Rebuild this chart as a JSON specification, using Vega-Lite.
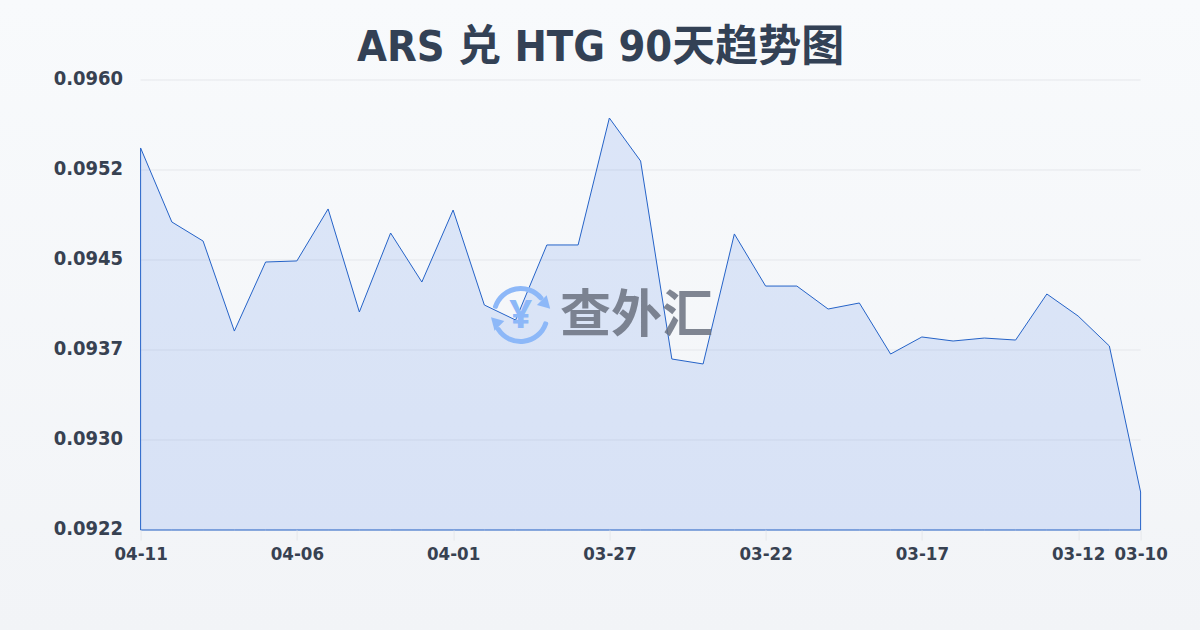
{
"$schema":"https://vega.github.io/schema/vega-lite/v6.json",
"width":1000,"height":450,
"autosize":{"type":"none"},
"padding":{"left":140.6,"top":80,"right":59.4,"bottom":100},
"background":"#f5f7fa",
"title":{"text":"ARS 兑 HTG 90天趋势图","anchor":"middle","dx":-40,"offset":-70,"fontSize":43,"fontWeight":"bold","font":"DejaVu Sans Condensed, Noto Sans CJK SC","color":"#334155"},
"config":{"view":{"stroke":null}},
"layer":[
{"data":{"values":[{}]},"mark":{"type":"rect","x":-141,"x2":1060,"y":-80,"y2":550,"fill":{"x1":0,"y1":0,"x2":0,"y2":1,"gradient":"linear","stops":[{"offset":0,"color":"#f8fafc"},{"offset":1,"color":"#f2f4f7"}]}},"encoding":{}},
{"data":{"values":[{"tick":0.0922},{"tick":0.09296},{"tick":0.09372},{"tick":0.09448},{"tick":0.09524},{"tick":0.096}]},"mark":{"type":"rule","color":"#e5e7eb","strokeWidth":1},"encoding":{"y":{"field":"tick","type":"quantitative","scale":{"domain":[0.0922,0.096],"nice":false,"zero":false},"axis":{"title":null,"values":[0.0922,0.09296,0.09372,0.09448,0.09524,0.096],"format":".4f","domain":false,"grid":false,"ticks":false,"labelFont":"DejaVu Sans Condensed","labelFontWeight":"bold","labelFontSize":20,"labelColor":"#374151","labelPadding":18,"labelOffset":-2,"zindex":1}}}},
{"data":{"values":[
{"date":"04-11","rate":0.095426},{"date":"04-10","rate":0.094801},{"date":"04-09","rate":0.09464},{"date":"04-08","rate":0.09388},{"date":"04-07","rate":0.094463},{"date":"04-06","rate":0.094472},{"date":"04-05","rate":0.094911},{"date":"04-04","rate":0.094041},{"date":"04-03","rate":0.094708},{"date":"04-02","rate":0.094294},{"date":"04-01","rate":0.094902},{"date":"03-31","rate":0.0941},{"date":"03-30","rate":0.093973},{"date":"03-29","rate":0.094607},{"date":"03-28","rate":0.094607},{"date":"03-27","rate":0.095679},{"date":"03-26","rate":0.095316},{"date":"03-25","rate":0.093644},{"date":"03-24","rate":0.093602},{"date":"03-23","rate":0.0947},{"date":"03-22","rate":0.09426},{"date":"03-21","rate":0.09426},{"date":"03-20","rate":0.094066},{"date":"03-19","rate":0.094117},{"date":"03-18","rate":0.093686},{"date":"03-17","rate":0.09383},{"date":"03-16","rate":0.093796},{"date":"03-15","rate":0.093821},{"date":"03-14","rate":0.093804},{"date":"03-13","rate":0.094193},{"date":"03-12","rate":0.094007},{"date":"03-11","rate":0.093754},{"date":"03-10","rate":0.092521}
]},
"mark":{"type":"area","fill":"#2563eb","fillOpacity":0.13,"stroke":"#2563c8","strokeWidth":1,"interpolate":"linear"},
"encoding":{
"x":{"field":"date","type":"ordinal","sort":null,"scale":{"type":"point","padding":0},"axis":{"title":null,"values":["04-11","04-06","04-01","03-27","03-22","03-17","03-12","03-10"],"labelAngle":0,"domain":false,"grid":false,"ticks":true,"tickColor":"#e5e7eb","tickSize":10,"labelFont":"DejaVu Sans Condensed","labelFontWeight":"bold","labelFontSize":18.5,"labelColor":"#374151","labelPadding":4,"zindex":1}},
"y":{"field":"rate","type":"quantitative","scale":{"domain":[0.0922,0.096],"nice":false,"zero":false}},
"y2":{"datum":0.0922}
}},
{"data":{"values":[{}]},"mark":{"type":"arc","x":380,"y":235,"radius":29,"radius2":24,"theta":-1.33,"theta2":0.96,"fill":"#8db8f8","cornerRadius":2},"encoding":{}},
{"data":{"values":[{}]},"mark":{"type":"arc","x":380,"y":235,"radius":29,"radius2":24,"theta":1.82,"theta2":4.22,"fill":"#8db8f8","cornerRadius":2},"encoding":{}},
{"data":{"values":[{}]},"mark":{"type":"point","shape":"triangle","x":404,"y":223,"size":190,"angle":135,"filled":true,"fill":"#8db8f8","opacity":1},"encoding":{}},
{"data":{"values":[{}]},"mark":{"type":"point","shape":"triangle","x":356,"y":243,"size":190,"angle":315,"filled":true,"fill":"#8db8f8","opacity":1},"encoding":{}},
{"data":{"values":[{"label":"¥"}]},"mark":{"type":"text","x":380,"y":236,"font":"Noto Sans","fontWeight":"bold","fontSize":40,"color":"#8db8f8","align":"center","baseline":"middle"},"encoding":{"text":{"field":"label"}}},
{"data":{"values":[{"label":"查外汇"}]},"mark":{"type":"text","x":496,"y":237,"font":"Noto Sans CJK SC","fontWeight":"bold","fontSize":51,"color":"#6b7280","opacity":0.85,"align":"center","baseline":"middle"},"encoding":{"text":{"field":"label"}}}
]
}
